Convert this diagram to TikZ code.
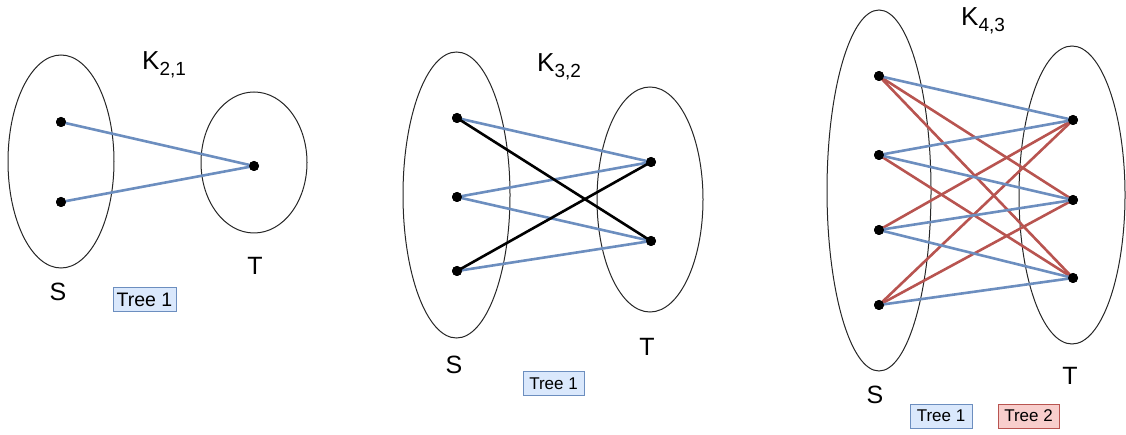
\documentclass[tikz,border=0pt]{standalone}
\usepackage{fontspec}
\setmainfont{Liberation Sans}
\usetikzlibrary{shapes.geometric}
\definecolor{tblue}{HTML}{6C8EBF}
\definecolor{tred}{HTML}{B85450}
\definecolor{tbluefill}{HTML}{DAE8FC}
\definecolor{tredfill}{HTML}{F8CECC}
\tikzset{
  setshape/.style={draw=black!85, line width=1pt, ellipse, inner sep=0pt},
  vtx/.style={circle, fill=black, inner sep=0pt, minimum size=10pt},
  blueedge/.style={draw=tblue, line width=2.6pt},
  rededge/.style={draw=tred, line width=2.6pt},
  blackedge/.style={draw=black, line width=2.6pt},
  setlabel/.style={anchor=base, inner sep=0pt, font=\fontsize{25}{25}\selectfont},
  title/.style={anchor=base west, inner sep=0pt, font=\fontsize{26}{26}\selectfont},
  legend/.style={draw, line width=1pt, inner sep=0pt, minimum height=24pt},
  legendblue/.style={legend, draw=tblue, fill=tbluefill},
  legendred/.style={legend, draw=tred, fill=tredfill}
}
\newcommand{\ksub}[1]{\raisebox{-6pt}{\fontsize{19}{19}\selectfont #1}}
\begin{document}
\begin{tikzpicture}[x=1pt,y=-1pt]
\useasboundingbox (0,0) rectangle (1126,435);

% ---------- K_{2,1} ----------
\node[setshape, minimum width=106pt, minimum height=213pt] (aS) at (61,161.5) {};
\node[setshape, minimum width=106pt, minimum height=141pt] (aT) at (254,162.5) {};
\node[vtx] (as1) at (61,122) {};
\node[vtx] (as2) at (61,202) {};
\node[vtx] (at1) at (254,166) {};
\draw[blueedge] (as1.center) -- (at1.center);
\draw[blueedge] (as2.center) -- (at1.center);
\node[vtx] at (as1) {};
\node[vtx] at (as2) {};
\node[vtx] at (at1) {};
\node[title] (atitle) at (142,70) {K\ksub{2,1}};
\node[setlabel] (aSl) at (58,301) {S};
\node[setlabel] (aTl) at (255,275) {T};
\node[legendblue, minimum width=63pt, font=\fontsize{19.5}{19.5}\selectfont] (aleg) at (144.5,299.5) {Tree 1};

% ---------- K_{3,2} ----------
\node[setshape, minimum width=107pt, minimum height=286pt] (bS) at (456.5,195) {};
\node[setshape, minimum width=106pt, minimum height=225pt] (bT) at (650,199.5) {};
\node[vtx] (bs1) at (457,118) {};
\node[vtx] (bs2) at (457,197) {};
\node[vtx] (bs3) at (457,271) {};
\node[vtx] (bt1) at (651,162) {};
\node[vtx] (bt2) at (651,241) {};
\draw[blueedge] (bs1.center) -- (bt1.center);
\draw[blueedge] (bs2.center) -- (bt1.center);
\draw[blueedge] (bs2.center) -- (bt2.center);
\draw[blueedge] (bs3.center) -- (bt2.center);
\draw[blackedge] (bs1.center) -- (bt2.center);
\draw[blackedge] (bs3.center) -- (bt1.center);
\foreach \n in {bs1,bs2,bs3,bt1,bt2} \node[vtx] at (\n) {};
\node[title] (btitle) at (537,72) {K\ksub{3,2}};
\node[setlabel] (bSl) at (454,373) {S};
\node[setlabel] (bTl) at (647,355) {T};
\node[legendblue, minimum width=61pt, font=\fontsize{17}{17}\selectfont] (bleg) at (553.5,383.5) {Tree 1};

% ---------- K_{4,3} ----------
\node[setshape, minimum width=104pt, minimum height=361pt] (cS) at (879,190.5) {};
\node[setshape, minimum width=106pt, minimum height=298pt] (cT) at (1072,195) {};
\node[vtx] (cs1) at (879,76) {};
\node[vtx] (cs2) at (879,155) {};
\node[vtx] (cs3) at (879,230) {};
\node[vtx] (cs4) at (879,305) {};
\node[vtx] (ct1) at (1073,120) {};
\node[vtx] (ct2) at (1073,200) {};
\node[vtx] (ct3) at (1073,278) {};
\draw[rededge] (cs1.center) -- (ct2.center);
\draw[rededge] (cs1.center) -- (ct3.center);
\draw[rededge] (cs2.center) -- (ct3.center);
\draw[rededge] (cs3.center) -- (ct1.center);
\draw[rededge] (cs4.center) -- (ct1.center);
\draw[rededge] (cs4.center) -- (ct2.center);
\draw[blueedge] (cs1.center) -- (ct1.center);
\draw[blueedge] (cs2.center) -- (ct1.center);
\draw[blueedge] (cs2.center) -- (ct2.center);
\draw[blueedge] (cs3.center) -- (ct2.center);
\draw[blueedge] (cs3.center) -- (ct3.center);
\draw[blueedge] (cs4.center) -- (ct3.center);
\foreach \n in {cs1,cs2,cs3,cs4,ct1,ct2,ct3} \node[vtx] at (\n) {};
\node[title] (ctitle) at (961,26) {K\ksub{4,3}};
\node[setlabel] (cSl) at (875,403) {S};
\node[setlabel] (cTl) at (1070,384) {T};
\node[legendblue, minimum width=62pt, font=\fontsize{17}{17}\selectfont] (cleg1) at (941,416) {Tree 1};
\node[legendred, minimum width=61pt, font=\fontsize{17}{17}\selectfont] (cleg2) at (1028.5,416) {Tree 2};
\end{tikzpicture}
\end{document}
